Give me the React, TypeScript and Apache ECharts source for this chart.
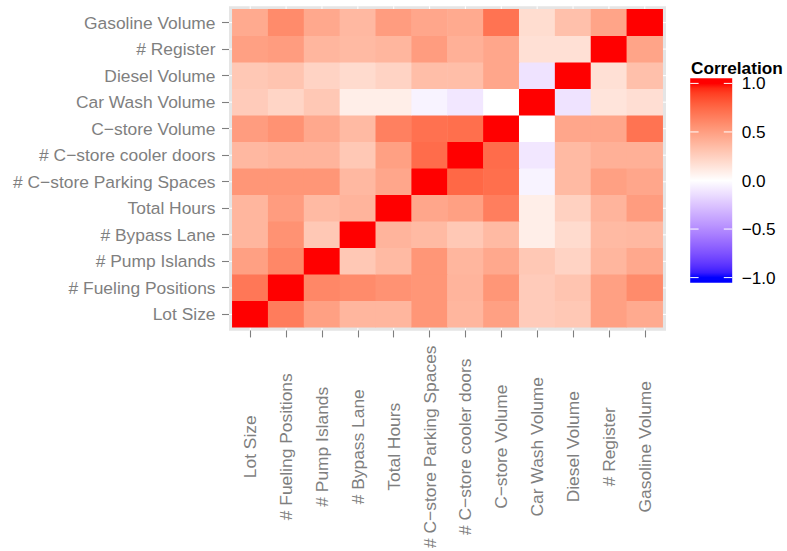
import React, { useEffect, useRef } from "react";
import * as echarts from "echarts";

// Variables, in axis order (x: left→right, y: bottom→top)
const variables = [
  "Lot Size",
  "# Fueling Positions",
  "# Pump Islands",
  "# Bypass Lane",
  "Total Hours",
  "# C\u2212store Parking Spaces",
  "# C\u2212store cooler doors",
  "C\u2212store Volume",
  "Car Wash Volume",
  "Diesel Volume",
  "# Register",
  "Gasoline Volume",
];

// Correlation of each row variable with every column variable (column order = variables)
const rowLotSize = [1, 0.66, 0.49, 0.38, 0.38, 0.54, 0.38, 0.49, 0.27, 0.29, 0.49, 0.44];
const rowFuelingPositions = [0.68, 1, 0.61, 0.59, 0.56, 0.54, 0.39, 0.54, 0.27, 0.31, 0.49, 0.59];
const rowPumpIslands = [0.49, 0.61, 1, 0.29, 0.36, 0.54, 0.38, 0.45, 0.29, 0.23, 0.38, 0.45];
const rowBypassLane = [0.38, 0.56, 0.29, 1, 0.39, 0.36, 0.29, 0.36, 0.09, 0.19, 0.36, 0.37];
const rowTotalHours = [0.38, 0.51, 0.36, 0.39, 1, 0.46, 0.49, 0.65, 0.09, 0.24, 0.39, 0.51];
const rowParkingSpaces = [0.54, 0.54, 0.54, 0.37, 0.46, 1, 0.75, 0.72, -0.05, 0.36, 0.49, 0.46];
const rowCoolerDoors = [0.37, 0.39, 0.39, 0.29, 0.49, 0.73, 1, 0.73, -0.1, 0.36, 0.41, 0.41];
const rowCstoreVolume = [0.51, 0.56, 0.45, 0.36, 0.64, 0.71, 0.72, 1, 0.0, 0.46, 0.46, 0.7];
const rowCarWashVolume = [0.27, 0.22, 0.29, 0.09, 0.09, -0.05, -0.1, 0.0, 1, -0.12, 0.14, 0.17];
const rowDieselVolume = [0.29, 0.31, 0.23, 0.19, 0.23, 0.34, 0.34, 0.46, -0.12, 1, 0.16, 0.33];
const rowRegister = [0.49, 0.51, 0.38, 0.36, 0.38, 0.51, 0.41, 0.46, 0.16, 0.16, 1, 0.47];
const rowGasolineVolume = [0.44, 0.59, 0.45, 0.37, 0.51, 0.46, 0.44, 0.7, 0.18, 0.33, 0.47, 1];

const corrRows = [
  rowLotSize,
  rowFuelingPositions,
  rowPumpIslands,
  rowBypassLane,
  rowTotalHours,
  rowParkingSpaces,
  rowCoolerDoors,
  rowCstoreVolume,
  rowCarWashVolume,
  rowDieselVolume,
  rowRegister,
  rowGasolineVolume,
];

const legendTicks = [1.0, 0.5, 0.0, -0.5, -1.0];
const legendTickLabels = ["1.0", "0.5", "0.0", "\u22120.5", "\u22121.0"];
const legendTitle = "Correlation";

// ---- colour scale: blue – white – red, interpolated in CIE Lab (like ggplot2) ----
const LAB_WHITE = [100, 0, 0];
const LAB_RED = [53.2408, 80.0925, 67.2032];
const LAB_BLUE = [32.297, 79.1875, -107.8602];

function labToHex(L: number, a: number, b: number): string {
  const fy = (L + 16) / 116;
  const fx = fy + a / 500;
  const fz = fy - b / 200;
  const eps = 216 / 24389;
  const kappa = 24389 / 27;
  const f3 = (f: number) => {
    const c = f * f * f;
    return c > eps ? c : (116 * f - 16) / kappa;
  };
  const X = 0.95047 * f3(fx);
  const Y = L > kappa * eps ? fy * fy * fy : L / kappa;
  const Z = 1.08883 * f3(fz);
  const r = 3.2404542 * X - 1.5371385 * Y - 0.4985314 * Z;
  const g = -0.969266 * X + 1.8760108 * Y + 0.041556 * Z;
  const bl = 0.0556434 * X - 0.2040259 * Y + 1.0572252 * Z;
  const gam = (c: number) => {
    c = Math.max(0, Math.min(1, c));
    const v = c <= 0.0031308 ? 12.92 * c : 1.055 * Math.pow(c, 1 / 2.4) - 0.055;
    return Math.round(Math.max(0, Math.min(1, v)) * 255);
  };
  const hx = (n: number) => n.toString(16).padStart(2, "0");
  return "#" + hx(gam(r)) + hx(gam(g)) + hx(gam(bl));
}

function scaleColor(v: number): string {
  const t = Math.min(1, Math.abs(v));
  const end = v < 0 ? LAB_BLUE : LAB_RED;
  return labToHex(
    LAB_WHITE[0] + (end[0] - LAB_WHITE[0]) * t,
    LAB_WHITE[1] + (end[1] - LAB_WHITE[1]) * t,
    LAB_WHITE[2] + (end[2] - LAB_WHITE[2]) * t
  );
}

const N_STOPS = 41;
const scaleStops: string[] = [];
for (let i = 0; i < N_STOPS; i++) scaleStops.push(scaleColor(-1 + (2 * i) / (N_STOPS - 1)));

// ---- layout ----
const W = 787;
const H = 551;
const gridLeft = 232.3;
const gridRight = 124.3;
const gridTop = 9.3;
const gridBottom = 223.3;
const padX = 3.3;
const padY = 3.1;
const fontFamily = "'Liberation Sans', Arial, Helvetica, sans-serif";
const axisFontSize = 17.4;
const axisTextColor = "#7F7F7F";
const panelColor = "#E5E5E5";

// legend bar
const barX = 690.2;
const barY = 78.3;
const barW = 42;
const barH = 204.4;
const barInset = 5.1;

export default function App() {
  const ref = useRef<HTMLDivElement>(null);

  useEffect(() => {
    document.body.style.margin = "0";
    if (!ref.current) return;
    const chart = echarts.init(ref.current, null, { renderer: "svg" });

    const data: number[][] = [];
    corrRows.forEach((row, yi) => {
      row.forEach((v, xi) => data.push([xi, yi, v]));
    });

    const plotW = W - gridLeft - gridRight;
    const plotH = H - gridTop - gridBottom;
    const cw = plotW / variables.length;
    const ch = plotH / variables.length;
    const panelL = gridLeft - padX;
    const panelT = gridTop - padY;
    const panelR = gridLeft + plotW + padX;
    const panelB = gridTop + plotH + padY;

    const graphics: any[] = [];
    graphics.push({
      type: "rect",
      z: -10,
      shape: { x: panelL, y: panelT, width: panelR - panelL, height: panelB - panelT },
      style: { fill: panelColor },
      silent: true,
    });
    // white major grid lines visible in the panel margin
    variables.forEach((_, i) => {
      const cx = gridLeft + (i + 0.5) * cw;
      const cy = gridTop + (i + 0.5) * ch;
      const ls = { stroke: "#FFFFFF", lineWidth: 1.1 };
      graphics.push({ type: "line", z: -9, silent: true, shape: { x1: cx, y1: panelT, x2: cx, y2: gridTop }, style: ls });
      graphics.push({ type: "line", z: -9, silent: true, shape: { x1: cx, y1: gridTop + plotH, x2: cx, y2: panelB }, style: ls });
      graphics.push({ type: "line", z: -9, silent: true, shape: { x1: panelL, y1: cy, x2: gridLeft, y2: cy }, style: ls });
      graphics.push({ type: "line", z: -9, silent: true, shape: { x1: gridLeft + plotW, y1: cy, x2: panelR, y2: cy }, style: ls });
    });

    // legend
    const tickY = (v: number) => barY + barInset + ((1 - v) / 2) * (barH - 2 * barInset);
    const gradStops: any[] = [{ offset: 0, color: scaleColor(1) }];
    for (let i = N_STOPS - 1; i >= 0; i--) {
      const v = -1 + (2 * i) / (N_STOPS - 1);
      gradStops.push({ offset: (tickY(v) - barY) / barH, color: scaleStops[i] });
    }
    gradStops.push({ offset: 1, color: scaleColor(-1) });

    graphics.push({
      type: "text",
      z: 10,
      x: 691,
      y: 67.6,
      style: {
        text: legendTitle,
        fill: "#000000",
        font: `bold 17.2px ${fontFamily}`,
        align: "left",
        verticalAlign: "middle",
      },
    });
    graphics.push({
      type: "rect",
      z: 10,
      shape: { x: barX, y: barY, width: barW, height: barH },
      style: { fill: new echarts.graphic.LinearGradient(0, 0, 0, 1, gradStops) },
    });
    legendTicks.forEach((v, i) => {
      const y = tickY(v);
      graphics.push({
        type: "line",
        z: 11,
        shape: { x1: barX, y1: y, x2: barX + barW / 5, y2: y },
        style: { stroke: "#FFFFFF", lineWidth: 1 },
      });
      graphics.push({
        type: "line",
        z: 11,
        shape: { x1: barX + barW - barW / 5, y1: y, x2: barX + barW, y2: y },
        style: { stroke: "#FFFFFF", lineWidth: 1 },
      });
      graphics.push({
        type: "text",
        z: 11,
        x: 741.7,
        y: y,
        style: {
          text: legendTickLabels[i],
          fill: "#000000",
          font: `17.2px ${fontFamily}`,
          align: "left",
          verticalAlign: "middle",
        },
      });
    });

    const tickStyle = { color: axisTextColor, width: 1.1 };

    chart.setOption({
      animation: false,
      backgroundColor: "#FFFFFF",
      grid: {
        left: gridLeft,
        right: gridRight,
        top: gridTop,
        bottom: gridBottom,
        containLabel: false,
      },
      xAxis: {
        type: "category",
        data: variables,
        offset: padY,
        axisLine: { show: false },
        axisTick: { show: true, alignWithLabel: true, interval: 0, length: 7, lineStyle: tickStyle },
        axisLabel: {
          interval: 0,
          rotate: 90,
          align: "center",
          verticalAlign: "middle",
          margin: 116.3,
          color: axisTextColor,
          fontSize: axisFontSize,
          fontFamily,
        },
        splitLine: { show: false },
        splitArea: { show: false },
      },
      yAxis: {
        type: "category",
        data: variables,
        offset: padX,
        axisLine: { show: false },
        axisTick: { show: true, alignWithLabel: true, interval: 0, length: 7, lineStyle: tickStyle },
        axisLabel: {
          interval: 0,
          margin: 13.5,
          color: axisTextColor,
          fontSize: axisFontSize,
          fontFamily,
        },
        splitLine: { show: false },
        splitArea: { show: false },
      },
      visualMap: {
        type: "continuous",
        show: false,
        min: -1,
        max: 1,
        dimension: 2,
        seriesIndex: 0,
        inRange: { color: scaleStops },
      },
      graphic: { elements: graphics },
      series: [
        {
          type: "heatmap",
          data,
          itemStyle: { borderWidth: 0 },
          emphasis: { disabled: true },
          label: { show: false },
        },
      ],
    });

    return () => chart.dispose();
  }, []);

  return (
    <div
      ref={ref}
      style={{ position: "fixed", left: 0, top: 0, width: W, height: H }}
    />
  );
}
